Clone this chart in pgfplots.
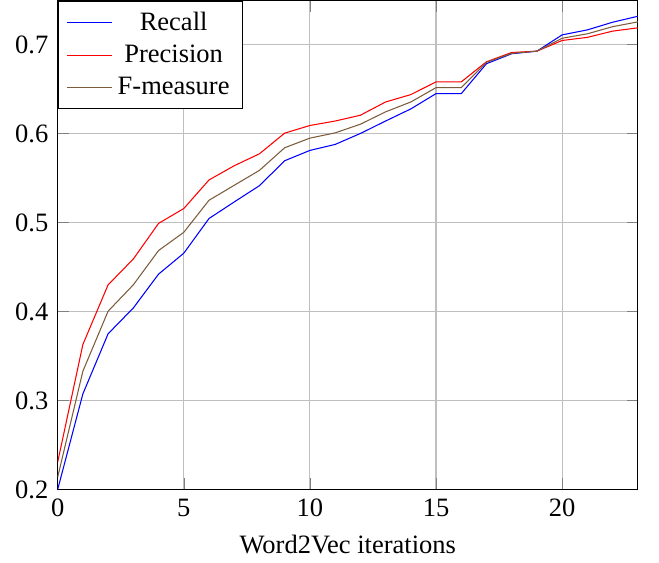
\documentclass[border=0pt]{standalone}
\usepackage{fontspec}
\setmainfont{Liberation Serif}
\usepackage{pgfplots}
\pgfplotsset{compat=1.18}
\definecolor{fbrown}{RGB}{125,92,60}
\begin{document}
\begin{tikzpicture}
\begin{axis}[
  scale only axis,
  width=219pt, height=184.6pt,
  xmin=0, xmax=23, ymin=0.2, ymax=0.7494,
  xtick={0,5,10,15,20},
  ytick={0.2,0.3,0.4,0.5,0.6,0.7},
  yticklabel style={/pgf/number format/fixed,/pgf/number format/precision=1},
  /pgf/number format/assume math mode=true,
  grid=major,
  xlabel={Word2Vec iterations},
  legend cell align=center,
  legend style={at={(0,1)},anchor=north west,draw=black,font=\normalsize},
]
\addplot[blue] coordinates {(0,0.200)(1,0.3075)(2,0.375)(3,0.404)(4,0.442)(5,0.4655)(6,0.5045)(7,0.5231)(8,0.5414)(9,0.5694)(10,0.5810)(11,0.5877)(12,0.600)(13,0.614)(14,0.6276)(15,0.6448)(16,0.6448)(17,0.6784)(18,0.6896)(19,0.6925)(20,0.7108)(21,0.7164)(22,0.725)(23,0.7317)};
\addlegendentry{Recall}
\addplot[red] coordinates {(0,0.2307)(1,0.363)(2,0.430)(3,0.459)(4,0.499)(5,0.5157)(6,0.5478)(7,0.5638)(8,0.5772)(9,0.6004)(10,0.609)(11,0.614)(12,0.6205)(13,0.6354)(14,0.6437)(15,0.658)(16,0.658)(17,0.6806)(18,0.691)(19,0.6925)(20,0.7045)(21,0.708)(22,0.715)(23,0.7187)};
\addlegendentry{Precision}
\addplot[fbrown] coordinates {(0,0.2138)(1,0.333)(2,0.4004)(3,0.430)(4,0.4685)(5,0.489)(6,0.525)(7,0.5418)(8,0.5586)(9,0.584)(10,0.5948)(11,0.6007)(12,0.6104)(13,0.6243)(14,0.6354)(15,0.6515)(16,0.6515)(17,0.680)(18,0.690)(19,0.6925)(20,0.707)(21,0.712)(22,0.720)(23,0.7254)};
\addlegendentry{F-measure}
\end{axis}
\path (current axis.south east) ++(8pt,0) coordinate (r);
\path (current bounding box.west) ++(-2.4pt,0) coordinate (l);
\useasboundingbox (current bounding box.south west -| l) rectangle (current bounding box.north east -| r);
\end{tikzpicture}
\end{document}
